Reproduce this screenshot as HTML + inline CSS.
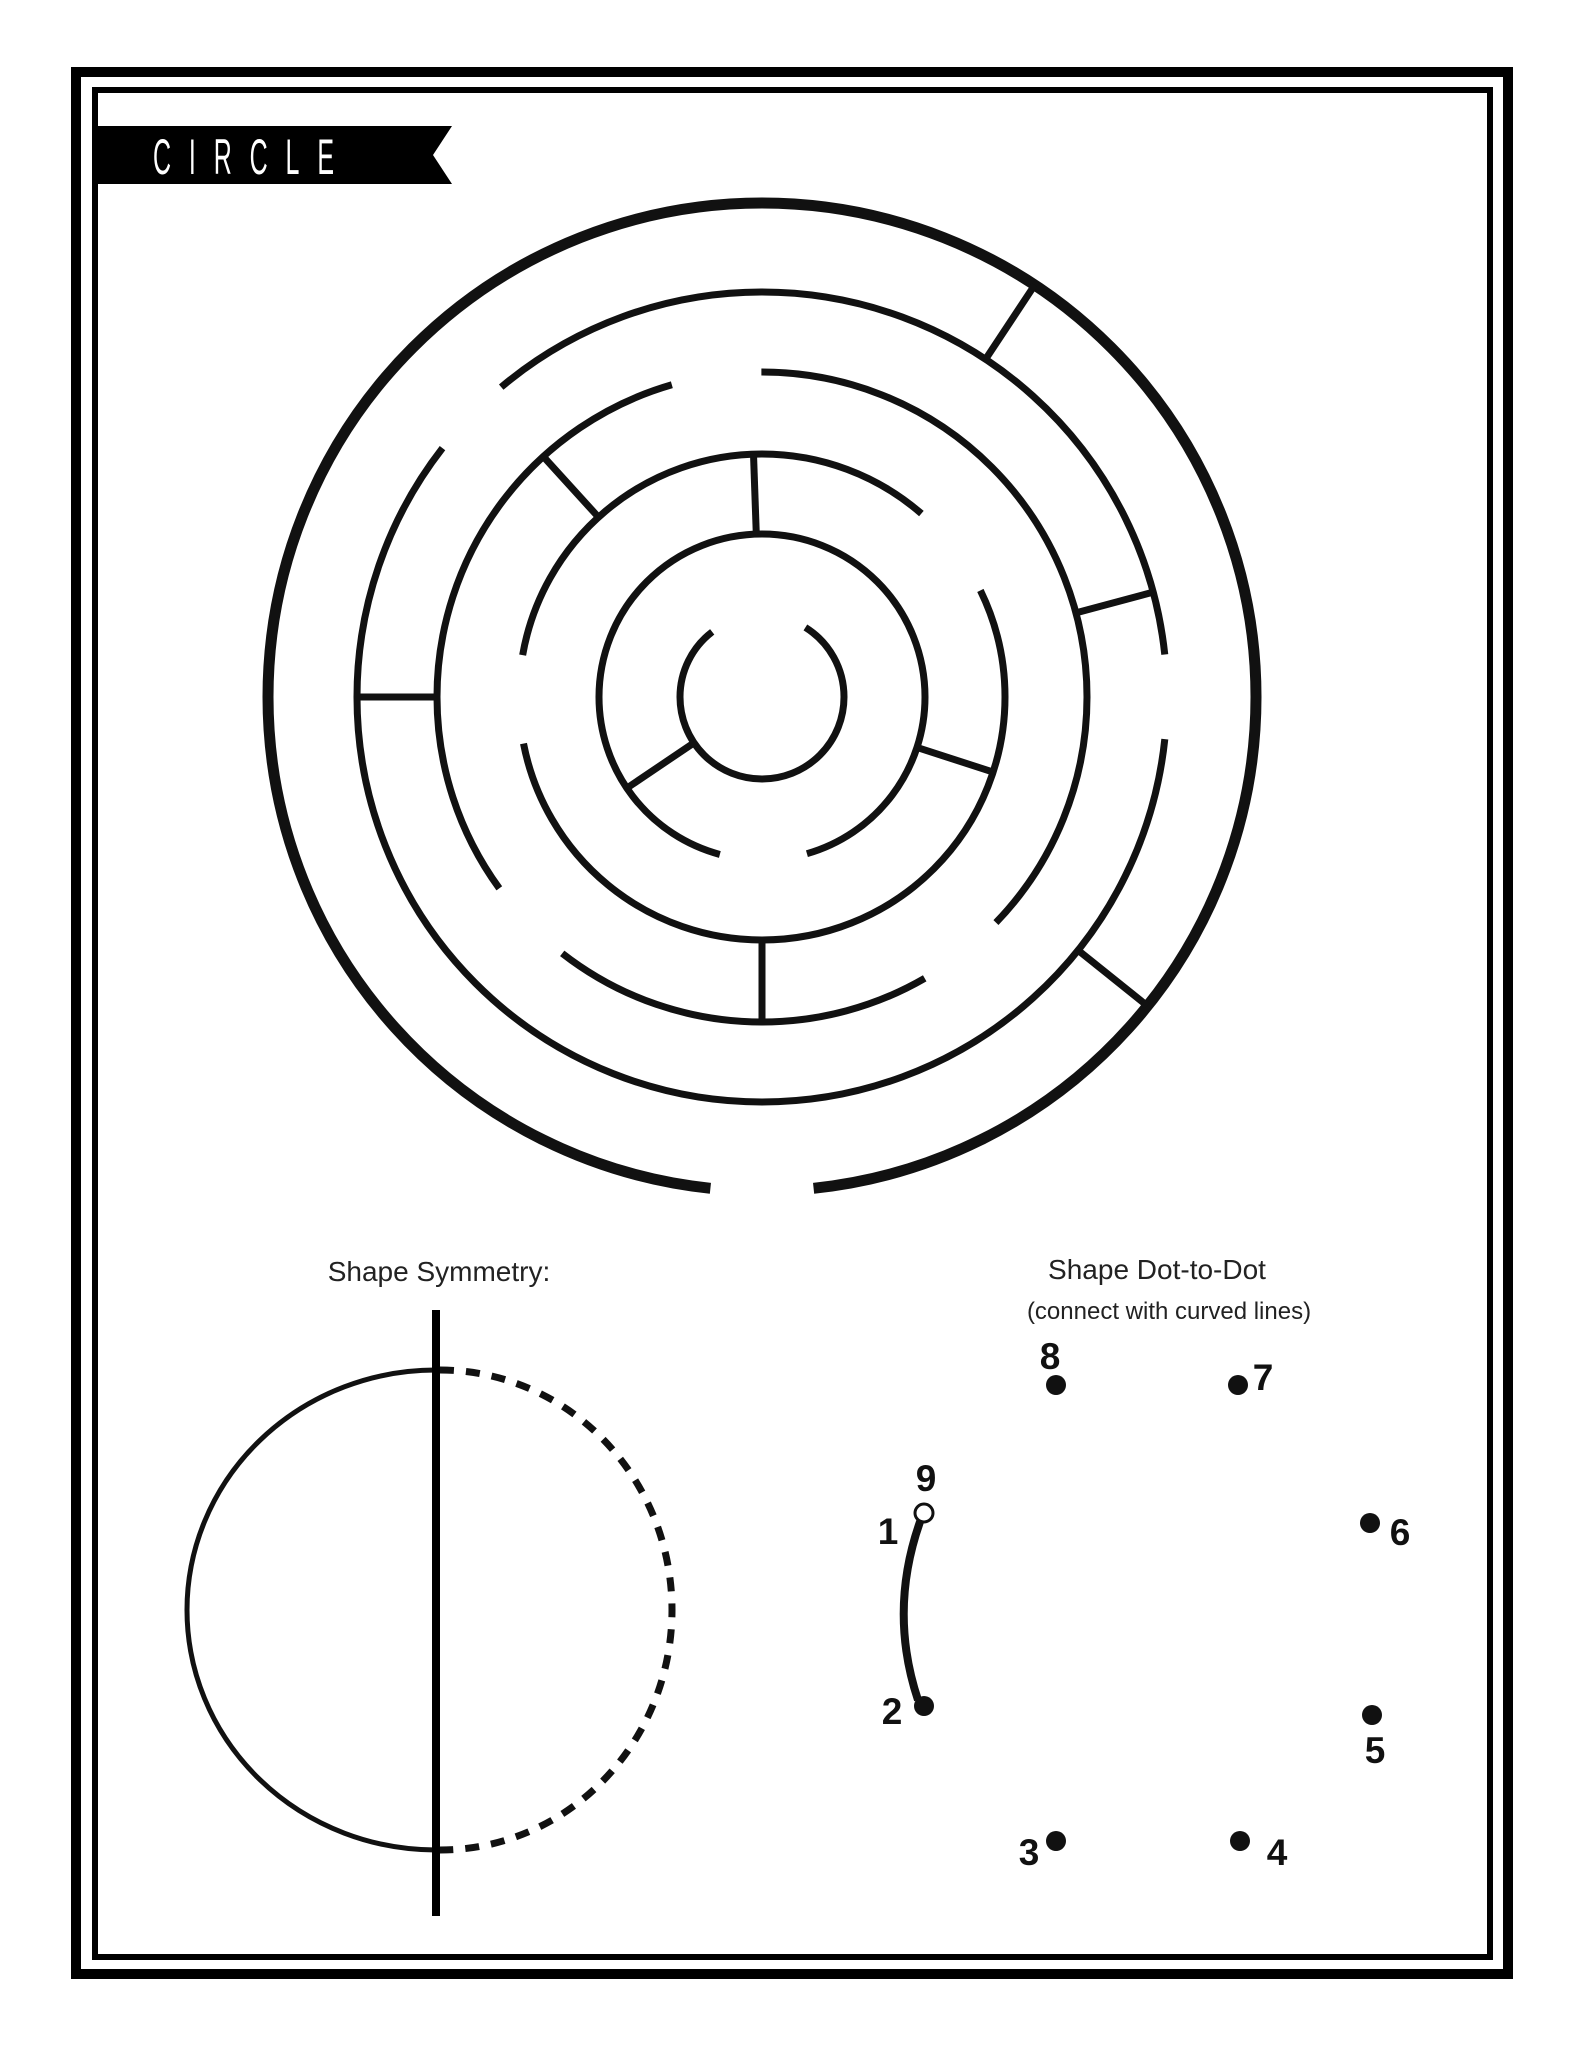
<!DOCTYPE html>
<html><head><meta charset="utf-8"><style>
html,body{margin:0;padding:0;background:#fff;}
svg{display:block;}
text{font-family:"Liberation Sans",sans-serif;}
</style></head><body>
<svg width="1582" height="2048" viewBox="0 0 1582 2048" xmlns="http://www.w3.org/2000/svg">
<rect x="0" y="0" width="1582" height="2048" fill="#fff"/>
<!-- borders -->
<rect x="76" y="72" width="1432" height="1902" fill="none" stroke="#000" stroke-width="10"/>
<rect x="95" y="90" width="1395" height="1867" fill="none" stroke="#000" stroke-width="6"/>
<!-- banner -->
<polygon points="98,126 452,126 433,155 452,184 98,184" fill="#000"/>
<text transform="translate(153 174) scale(0.5 1)" x="0" y="0" font-size="50" fill="#fff" textLength="362" lengthAdjust="spacing">CIRCLE</text>
<!-- maze -->
<g fill="none" stroke="#111" transform="translate(762 697) rotate(-90)">
<circle r="494" stroke-width="11" pathLength="360" stroke-dasharray="174 12 174 0"/>
<circle r="405" stroke-width="7" pathLength="360" stroke-dasharray="84 12 212 12 40 0"/>
<circle r="325" stroke-width="7" pathLength="360" stroke-dasharray="134 16 68 16 110 16"/>
<circle r="243" stroke-width="7" pathLength="360" stroke-dasharray="41 23 195 21 80 0"/>
<circle r="163" stroke-width="7" pathLength="360" stroke-dasharray="164 31 165 0"/>
<circle r="82" stroke-width="7" pathLength="360" stroke-dasharray="0 32 291 37"/>
</g>
<g stroke="#111" stroke-width="7">
<line x1="985.6" y1="359.2" x2="1034.7" y2="285"/>
<line x1="1075.9" y1="612.9" x2="1153.2" y2="592.1"/>
<line x1="917" y1="747.4" x2="993.1" y2="772.1"/>
<line x1="1077.9" y1="950.1" x2="1147.3" y2="1005.8"/>
<line x1="762" y1="940" x2="762" y2="1022"/>
<line x1="694" y1="742.8" x2="626.9" y2="788.1"/>
<line x1="437" y1="697" x2="357" y2="697"/>
<line x1="598.5" y1="517.2" x2="543.3" y2="456.5"/>
<line x1="756.3" y1="534.2" x2="753.5" y2="454.2"/>
</g>
<!-- symmetry -->
<text x="439" y="1281" font-size="28" text-anchor="middle" fill="#222">Shape Symmetry:</text>
<path d="M436,1370 A249,240 0 0 0 436,1850" fill="none" stroke="#111" stroke-width="5"/>
<path d="M440,1370 A232,240 0 0 1 440,1850" fill="none" stroke="#111" stroke-width="7" stroke-dasharray="14 12"/>
<line x1="436" y1="1310" x2="436" y2="1916" stroke="#000" stroke-width="8"/>
<!-- dot to dot -->
<text x="1157" y="1279" font-size="28" text-anchor="middle" fill="#222">Shape Dot-to-Dot</text>
<text x="1169" y="1319" font-size="24" text-anchor="middle" fill="#222">(connect with curved lines)</text>
<path d="M921,1519 Q888,1610 918,1700" fill="none" stroke="#111" stroke-width="8"/>
<g fill="#111">
<circle cx="1056" cy="1385" r="10"/>
<circle cx="1238" cy="1385" r="10"/>
<circle cx="1370" cy="1523" r="10"/>
<circle cx="1372" cy="1715" r="10"/>
<circle cx="1240" cy="1841" r="10"/>
<circle cx="1056" cy="1841" r="10"/>
<circle cx="924" cy="1706" r="10"/>
</g>
<circle cx="924" cy="1513" r="9" fill="#fff" stroke="#111" stroke-width="3"/>
<g font-size="37" font-weight="bold" fill="#111" text-anchor="middle">
<text x="1050" y="1369">8</text>
<text x="1263" y="1390">7</text>
<text x="1400" y="1545">6</text>
<text x="1375" y="1763">5</text>
<text x="1277" y="1865">4</text>
<text x="1029" y="1865">3</text>
<text x="892" y="1724">2</text>
<text x="926" y="1491">9</text>
<text x="888" y="1544">1</text>
</g>
</svg>
</body></html>
